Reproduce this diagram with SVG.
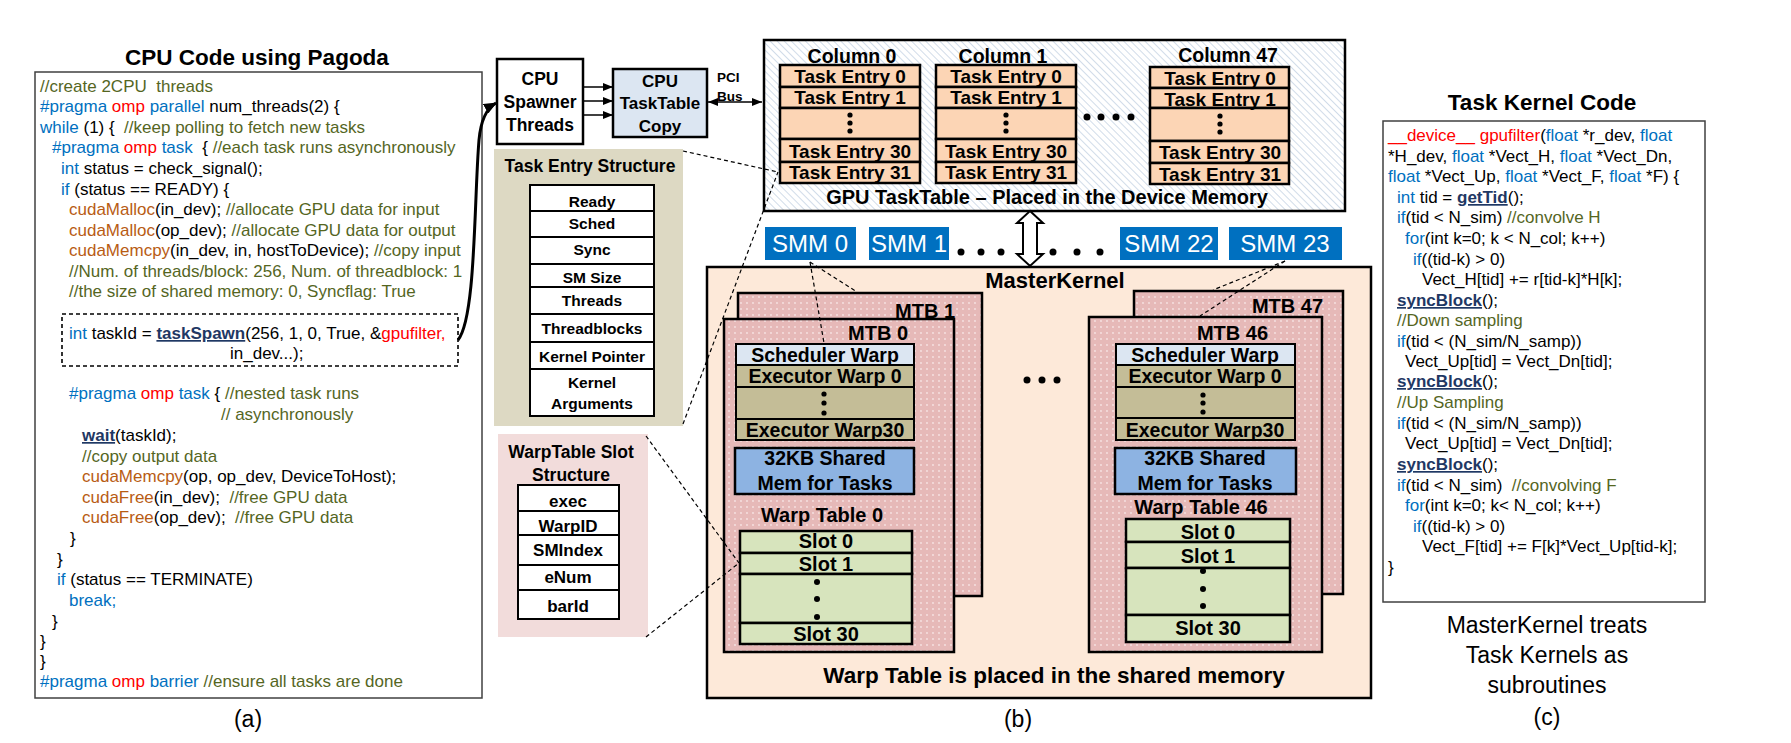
<svg xmlns="http://www.w3.org/2000/svg" width="1791" height="743" viewBox="0 0 1791 743">
<defs>
<style>
text{font-family:"Liberation Sans",Arial,sans-serif;fill:#000}
.b{font-weight:bold;text-anchor:middle}
.c{font-size:17px;white-space:pre}
.kw{fill:#0070c0}.om{fill:#ff0000}.cm{fill:#55661f}.fn{fill:#b85c14}
.api{fill:#1f3864;font-weight:bold;text-decoration:underline}
.cap{font-size:23px;text-anchor:middle}
.bx{stroke:#000;stroke-width:2.5}
.row{stroke:#000;stroke-width:2}
.te{fill:#fcd5b5;stroke:#000;stroke-width:2.5}
.sl{fill:#d7e4bd;stroke:#000;stroke-width:2.5}
.dash{fill:none;stroke:#000;stroke-width:1.2;stroke-dasharray:4 3}
.smm{fill:#0070c0}
.smt{fill:#fff;font-size:24px;text-anchor:middle}
</style>
<pattern id="hatch" width="5" height="5" patternUnits="userSpaceOnUse" patternTransform="rotate(-45)">
<rect width="5" height="5" fill="#fff"/><line x1="0" y1="0" x2="0" y2="5" stroke="#c5d3e4" stroke-width="1.6"/>
</pattern>
<pattern id="dots" width="6" height="6" patternUnits="userSpaceOnUse">
<rect width="6" height="6" fill="#e6b9b8"/><circle cx="3" cy="3" r="0.9" fill="#f7e4e4"/>
</pattern>
<marker id="arr" viewBox="0 0 10 8" refX="10" refY="4" markerWidth="10" markerHeight="8" markerUnits="userSpaceOnUse" orient="auto-start-reverse">
<path d="M0,0 L10,4 L0,8 z" fill="#000"/>
</marker>
<marker id="big" viewBox="0 0 12 10" refX="11" refY="5" markerWidth="13" markerHeight="11" markerUnits="userSpaceOnUse" orient="auto">
<path d="M0,0 L12,5 L0,10 z" fill="#000"/>
</marker>
</defs>
<rect width="1791" height="743" fill="#fff"/>

<!-- (a) CPU code -->
<g id="cpu-code">
<text x="257" y="65" class="b" font-size="22.5">CPU Code using Pagoda</text>
<rect x="35" y="72" width="447" height="626" fill="#fff" stroke="#404040" stroke-width="1.5"/>
<text class="c" x="40" y="92"><tspan class="cm">//create 2CPU  threads</tspan></text>
<text class="c" x="40" y="112"><tspan class="kw">#pragma </tspan><tspan class="om">omp </tspan><tspan class="kw">parallel </tspan>num_threads(2) {</text>
<text class="c" x="40" y="133"><tspan class="kw">while </tspan>(1) {  <tspan class="cm">//keep polling to fetch new tasks</tspan></text>
<text class="c" x="52" y="153"><tspan class="kw">#pragma </tspan><tspan class="om">omp </tspan><tspan class="kw">task  </tspan>{ <tspan class="cm">//each task runs asynchronously</tspan></text>
<text class="c" x="61" y="174"><tspan class="kw">int </tspan>status = check_signal();</text>
<text class="c" x="61" y="195"><tspan class="kw">if </tspan>(status == READY) {</text>
<text class="c" x="69" y="215"><tspan class="fn">cudaMalloc</tspan>(in_dev); <tspan class="cm">//allocate GPU data for input</tspan></text>
<text class="c" x="69" y="236"><tspan class="fn">cudaMalloc</tspan>(op_dev); <tspan class="cm">//allocate GPU data for output</tspan></text>
<text class="c" x="69" y="256"><tspan class="fn">cudaMemcpy</tspan>(in_dev, in, hostToDevice); <tspan class="cm">//copy input</tspan></text>
<text class="c" x="69" y="277"><tspan class="cm">//Num. of threads/block: 256, Num. of threadblock: 1</tspan></text>
<text class="c" x="69" y="297"><tspan class="cm">//the size of shared memory: 0, Syncflag: True</tspan></text>
<rect x="62" y="314" width="396" height="52" fill="none" stroke="#000" stroke-width="1.6" stroke-dasharray="4 3"/>
<text class="c" x="69" y="339"><tspan class="kw">int </tspan>taskId = <tspan class="api">taskSpawn</tspan>(256, 1, 0, True, &amp;<tspan class="om">gpufilter,</tspan></text>
<text class="c" x="230" y="359">in_dev...);</text>
<text class="c" x="69" y="399"><tspan class="kw">#pragma </tspan><tspan class="om">omp </tspan><tspan class="kw">task </tspan>{ <tspan class="cm">//nested task runs</tspan></text>
<text class="c" x="221" y="420"><tspan class="cm">// asynchronously</tspan></text>
<text class="c" x="82" y="441"><tspan class="api">wait</tspan>(taskId);</text>
<text class="c" x="82" y="462"><tspan class="cm">//copy output data</tspan></text>
<text class="c" x="82" y="482"><tspan class="fn">cudaMemcpy</tspan>(op, op_dev, DeviceToHost);</text>
<text class="c" x="82" y="503"><tspan class="fn">cudaFree</tspan>(in_dev);  <tspan class="cm">//free GPU data</tspan></text>
<text class="c" x="82" y="523"><tspan class="fn">cudaFree</tspan>(op_dev);  <tspan class="cm">//free GPU data</tspan></text>
<text class="c" x="70" y="544">}</text>
<text class="c" x="57" y="565">}</text>
<text class="c" x="57" y="585"><tspan class="kw">if </tspan>(status == TERMINATE)</text>
<text class="c" x="69" y="606"><tspan class="kw">break;</tspan></text>
<text class="c" x="52" y="627">}</text>
<text class="c" x="40" y="647">}</text>
<text class="c" x="40" y="667">}</text>
<text class="c" x="40" y="687"><tspan class="kw">#pragma </tspan><tspan class="om">omp </tspan><tspan class="kw">barrier </tspan><tspan class="cm">//ensure all tasks are done</tspan></text>
<text class="cap" x="248" y="727">(a)</text>
</g>

<!-- CPU spawner -->
<g id="cpu-spawner">
<rect x="497" y="59" width="86" height="85" fill="#fff" class="bx"/>
<text class="b" font-size="17.5" x="540" y="85">CPU</text>
<text class="b" font-size="17.5" x="540" y="108">Spawner</text>
<text class="b" font-size="17.5" x="540" y="131">Threads</text>
</g>
<g id="cpu-tasktable">
<rect x="613" y="69" width="94" height="68" fill="#dce6f2" class="bx"/>
<text class="b" font-size="17" x="660" y="87">CPU</text>
<text class="b" font-size="17" x="660" y="109">TaskTable</text>
<text class="b" font-size="17" x="660" y="132">Copy</text>
</g>
<g id="pci-label">
<text font-weight="bold" font-size="13.5" x="717" y="82">PCI</text>
<text font-weight="bold" font-size="13.5" x="717" y="101">Bus</text>
</g>

<!-- Task entry structure -->
<g id="task-entry-structure">
<rect x="494" y="149" width="189" height="277" fill="#ddd9c3"/>
<text class="b" font-size="17.5" x="590" y="172">Task Entry Structure</text>
<g fill="#fff" class="row">
<rect x="530" y="185" width="124" height="26"/>
<rect x="530" y="211" width="124" height="26"/>
<rect x="530" y="237" width="124" height="27"/>
<rect x="530" y="264" width="124" height="23"/>
<rect x="530" y="287" width="124" height="27"/>
<rect x="530" y="314" width="124" height="28"/>
<rect x="530" y="342" width="124" height="27"/>
<rect x="530" y="369" width="124" height="47"/>
</g>
<g font-size="15.5">
<text class="b" x="592" y="207">Ready</text>
<text class="b" x="592" y="229">Sched</text>
<text class="b" x="592" y="255">Sync</text>
<text class="b" x="592" y="283">SM Size</text>
<text class="b" x="592" y="306">Threads</text>
<text class="b" x="592" y="334">Threadblocks</text>
<text class="b" x="592" y="362">Kernel Pointer</text>
<text class="b" x="592" y="388">Kernel</text>
<text class="b" x="592" y="409">Arguments</text>
</g>
</g>

<!-- WarpTable slot structure -->
<g id="warptable-slot-structure">
<rect x="498" y="434" width="150" height="203" fill="#f2dcdb"/>
<text class="b" font-size="17.5" x="571" y="458">WarpTable Slot</text>
<text class="b" font-size="17.5" x="571" y="481">Structure</text>
<g fill="#fff" class="row">
<rect x="518" y="485" width="101" height="26"/>
<rect x="518" y="511" width="101" height="24"/>
<rect x="518" y="535" width="101" height="30"/>
<rect x="518" y="565" width="101" height="25"/>
<rect x="518" y="590" width="101" height="29"/>
</g>
<g font-size="17">
<text class="b" x="568" y="507">exec</text>
<text class="b" x="568" y="532">WarpID</text>
<text class="b" x="568" y="556">SMIndex</text>
<text class="b" x="568" y="583">eNum</text>
<text class="b" x="568" y="612">barId</text>
</g>
</g>

<!-- GPU TaskTable -->
<g id="gpu-tasktable">
<rect x="764" y="40" width="581" height="171" fill="url(#hatch)" class="bx"/>
<g font-size="19.5">
<text class="b" x="852" y="63">Column 0</text>
<text class="b" x="1003" y="63">Column 1</text>
<text class="b" x="1228" y="62">Column 47</text>
</g>
<g id="column-0">
<rect class="te" x="780" y="65" width="140" height="22"/>
<rect class="te" x="780" y="87" width="140" height="21"/>
<rect class="te" x="780" y="108" width="140" height="31"/>
<rect class="te" x="780" y="139" width="140" height="23"/>
<rect class="te" x="780" y="162" width="140" height="21"/>
<g font-size="19">
<text class="b" x="850" y="83">Task Entry 0</text>
<text class="b" x="850" y="104">Task Entry 1</text>
<text class="b" x="850" y="158">Task Entry 30</text>
<text class="b" x="850" y="179">Task Entry 31</text>
</g>
<circle cx="850" cy="115" r="2.6"/><circle cx="850" cy="123" r="2.6"/><circle cx="850" cy="131" r="2.6"/>
</g>
<g id="column-1">
<rect class="te" x="936" y="65" width="140" height="22"/>
<rect class="te" x="936" y="87" width="140" height="21"/>
<rect class="te" x="936" y="108" width="140" height="31"/>
<rect class="te" x="936" y="139" width="140" height="23"/>
<rect class="te" x="936" y="162" width="140" height="21"/>
<g font-size="19">
<text class="b" x="1006" y="83">Task Entry 0</text>
<text class="b" x="1006" y="104">Task Entry 1</text>
<text class="b" x="1006" y="158">Task Entry 30</text>
<text class="b" x="1006" y="179">Task Entry 31</text>
</g>
<circle cx="1006" cy="115" r="2.6"/><circle cx="1006" cy="123" r="2.6"/><circle cx="1006" cy="131" r="2.6"/>
</g>
<g id="column-47">
<rect class="te" x="1150" y="67" width="139" height="21"/>
<rect class="te" x="1150" y="88" width="139" height="20"/>
<rect class="te" x="1150" y="108" width="139" height="33"/>
<rect class="te" x="1150" y="141" width="139" height="22"/>
<rect class="te" x="1150" y="163" width="139" height="21"/>
<g font-size="19">
<text class="b" x="1220" y="85">Task Entry 0</text>
<text class="b" x="1220" y="106">Task Entry 1</text>
<text class="b" x="1220" y="159">Task Entry 30</text>
<text class="b" x="1220" y="181">Task Entry 31</text>
</g>
<circle cx="1220" cy="116" r="2.6"/><circle cx="1220" cy="124" r="2.6"/><circle cx="1220" cy="132" r="2.6"/>
</g>
<circle cx="1087" cy="117" r="3.5"/><circle cx="1101" cy="117" r="3.5"/><circle cx="1116" cy="117" r="3.5"/><circle cx="1131" cy="117" r="3.5"/>
<text class="b" font-size="20" x="1047" y="204">GPU TaskTable – Placed in the Device Memory</text>
</g>

<!-- SMMs -->
<g id="smm-0"><rect class="smm" x="765" y="227" width="91" height="33"/><text class="smt" x="810" y="252">SMM 0</text></g>
<g id="smm-1"><rect class="smm" x="869" y="227" width="80" height="33"/><text class="smt" x="909" y="252">SMM 1</text></g>
<g id="smm-22"><rect class="smm" x="1120" y="227" width="98" height="33"/><text class="smt" x="1169" y="252">SMM 22</text></g>
<g id="smm-23"><rect class="smm" x="1229" y="227" width="113" height="33"/><text class="smt" x="1285" y="252">SMM 23</text></g>
<g id="smm-dots">
<circle cx="961" cy="252" r="3.5"/><circle cx="981" cy="252" r="3.5"/><circle cx="1001" cy="252" r="3.5"/>
<circle cx="1053" cy="252" r="3.5"/><circle cx="1077" cy="252" r="3.5"/><circle cx="1100" cy="252" r="3.5"/>
</g>

<!-- MasterKernel -->
<g id="masterkernel">
<rect x="707" y="267" width="664" height="431" fill="#fde9d9" class="bx"/>
<text class="b" font-size="22" x="1055" y="288">MasterKernel</text>
<text class="b" font-size="22.5" x="1054" y="683">Warp Table is placed in the shared memory</text>
<circle cx="1027" cy="380" r="3.5"/><circle cx="1042" cy="380" r="3.5"/><circle cx="1057" cy="380" r="3.5"/>
</g>

<g id="mtb-1">
<rect x="738" y="293" width="244" height="303" fill="url(#dots)" class="bx"/>
<text font-weight="bold" font-size="20" text-anchor="end" x="955" y="318">MTB 1</text>
</g>
<g id="mtb-0">
<rect x="724" y="319" width="230" height="333" fill="url(#dots)" class="bx"/>
<text font-weight="bold" font-size="20" text-anchor="end" x="908" y="340">MTB 0</text>
<rect x="736" y="344" width="178" height="21" fill="#dce6f2" class="row"/>
<rect x="736" y="365" width="178" height="22" fill="#c4bd97" class="row"/>
<rect x="736" y="387" width="178" height="32" fill="#c4bd97" class="row"/>
<rect x="736" y="419" width="178" height="21" fill="#c4bd97" class="row"/>
<g font-size="19.5">
<text class="b" x="825" y="362">Scheduler Warp</text>
<text class="b" x="825" y="383">Executor Warp 0</text>
<text class="b" x="825" y="437">Executor Warp30</text>
</g>
<circle cx="824" cy="394" r="2.6"/><circle cx="824" cy="403" r="2.6"/><circle cx="824" cy="413" r="2.6"/>
<rect x="735" y="448" width="179" height="46" fill="#8db3e2" class="bx"/>
<text class="b" font-size="19.5" x="825" y="465">32KB Shared</text>
<text class="b" font-size="19.5" x="825" y="490">Mem for Tasks</text>
<text class="b" font-size="20" x="822" y="522">Warp Table 0</text>
<rect class="sl" x="740" y="531" width="172" height="22"/>
<rect class="sl" x="740" y="553" width="172" height="21"/>
<rect class="sl" x="740" y="574" width="172" height="49"/>
<rect class="sl" x="740" y="623" width="172" height="21"/>
<g font-size="20">
<text class="b" x="826" y="548">Slot 0</text>
<text class="b" x="826" y="571">Slot 1</text>
<text class="b" x="826" y="641">Slot 30</text>
</g>
<circle cx="817" cy="582" r="3"/><circle cx="817" cy="599" r="3"/><circle cx="817" cy="617" r="3"/>
</g>

<g id="mtb-47">
<rect x="1134" y="291" width="209" height="303" fill="url(#dots)" class="bx"/>
<text font-weight="bold" font-size="20" text-anchor="end" x="1323" y="313">MTB 47</text>
</g>
<g id="mtb-46">
<rect x="1089" y="317" width="233" height="335" fill="url(#dots)" class="bx"/>
<text font-weight="bold" font-size="20" text-anchor="end" x="1268" y="340">MTB 46</text>
<rect x="1116" y="344" width="179" height="21" fill="#dce6f2" class="row"/>
<rect x="1116" y="365" width="179" height="22" fill="#c4bd97" class="row"/>
<rect x="1116" y="387" width="179" height="31" fill="#c4bd97" class="row"/>
<rect x="1116" y="418" width="179" height="22" fill="#c4bd97" class="row"/>
<g font-size="19.5">
<text class="b" x="1205" y="362">Scheduler Warp</text>
<text class="b" x="1205" y="383">Executor Warp 0</text>
<text class="b" x="1205" y="437">Executor Warp30</text>
</g>
<circle cx="1203" cy="395" r="2.6"/><circle cx="1203" cy="403" r="2.6"/><circle cx="1203" cy="412" r="2.6"/>
<rect x="1115" y="448" width="181" height="46" fill="#8db3e2" class="bx"/>
<text class="b" font-size="19.5" x="1205" y="465">32KB Shared</text>
<text class="b" font-size="19.5" x="1205" y="490">Mem for Tasks</text>
<text class="b" font-size="20" x="1201" y="514">Warp Table 46</text>
<rect class="sl" x="1126" y="519" width="164" height="23"/>
<rect class="sl" x="1126" y="542" width="164" height="26"/>
<rect class="sl" x="1126" y="568" width="164" height="47"/>
<rect class="sl" x="1126" y="615" width="164" height="27"/>
<g font-size="20">
<text class="b" x="1208" y="539">Slot 0</text>
<text class="b" x="1208" y="563">Slot 1</text>
<text class="b" x="1208" y="635">Slot 30</text>
</g>
<circle cx="1203" cy="571" r="3"/><circle cx="1203" cy="589" r="3"/><circle cx="1203" cy="606" r="3"/>
</g>

<text class="cap" x="1018" y="727">(b)</text>

<!-- (c) Task kernel code -->
<g id="task-kernel-code">
<text x="1542" y="110" class="b" font-size="22.5">Task Kernel Code</text>
<rect x="1383" y="121" width="322" height="481" fill="#fff" stroke="#404040" stroke-width="1.5"/>
<text class="c" x="1388" y="141"><tspan class="om">__device__ gpufilter</tspan>(<tspan class="kw">float </tspan>*r_dev, <tspan class="kw">float</tspan></text>
<text class="c" x="1388" y="162">*H_dev, <tspan class="kw">float </tspan>*Vect_H, <tspan class="kw">float </tspan>*Vect_Dn,</text>
<text class="c" x="1388" y="182"><tspan class="kw">float </tspan>*Vect_Up, <tspan class="kw">float </tspan>*Vect_F, <tspan class="kw">float </tspan>*F) {</text>
<text class="c" x="1397" y="203"><tspan class="kw">int </tspan>tid = <tspan class="api">getTid</tspan>();</text>
<text class="c" x="1397" y="223"><tspan class="kw">if</tspan>(tid &lt; N_sim) <tspan class="cm">//convolve H</tspan></text>
<text class="c" x="1405" y="244"><tspan class="kw">for</tspan>(int k=0; k &lt; N_col; k++)</text>
<text class="c" x="1413" y="265"><tspan class="kw">if</tspan>((tid-k) &gt; 0)</text>
<text class="c" x="1422" y="285">Vect_H[tid] += r[tid-k]*H[k];</text>
<text class="c" x="1397" y="306"><tspan class="api">syncBlock</tspan>();</text>
<text class="c" x="1397" y="326"><tspan class="cm">//Down sampling</tspan></text>
<text class="c" x="1397" y="347"><tspan class="kw">if</tspan>(tid &lt; (N_sim/N_samp))</text>
<text class="c" x="1405" y="367">Vect_Up[tid] = Vect_Dn[tid];</text>
<text class="c" x="1397" y="387"><tspan class="api">syncBlock</tspan>();</text>
<text class="c" x="1397" y="408"><tspan class="cm">//Up Sampling</tspan></text>
<text class="c" x="1397" y="429"><tspan class="kw">if</tspan>(tid &lt; (N_sim/N_samp))</text>
<text class="c" x="1405" y="449">Vect_Up[tid] = Vect_Dn[tid];</text>
<text class="c" x="1397" y="470"><tspan class="api">syncBlock</tspan>();</text>
<text class="c" x="1397" y="491"><tspan class="kw">if</tspan>(tid &lt; N_sim)  <tspan class="cm">//convolving F</tspan></text>
<text class="c" x="1405" y="511"><tspan class="kw">for</tspan>(int k=0; k&lt; N_col; k++)</text>
<text class="c" x="1413" y="532"><tspan class="kw">if</tspan>((tid-k) &gt; 0)</text>
<text class="c" x="1422" y="552">Vect_F[tid] += F[k]*Vect_Up[tid-k];</text>
<text class="c" x="1388" y="573">}</text>
<text class="cap" x="1547" y="633">MasterKernel treats</text>
<text class="cap" x="1547" y="663">Task Kernels as</text>
<text class="cap" x="1547" y="693">subroutines</text>
<text class="cap" x="1547" y="725">(c)</text>
</g>

<!-- connectors -->
<g id="connectors">
<path d="M458,340 C476,318 474,200 479,140 C481,118 487,108 496,103" fill="none" stroke="#000" stroke-width="3" marker-end="url(#big)"/>
<line x1="583" y1="87" x2="613" y2="87" stroke="#000" stroke-width="1.5" marker-end="url(#arr)"/>
<line x1="583" y1="101" x2="613" y2="101" stroke="#000" stroke-width="1.5" marker-end="url(#arr)"/>
<line x1="583" y1="115" x2="613" y2="115" stroke="#000" stroke-width="1.5" marker-end="url(#arr)"/>
<line x1="708" y1="102" x2="762" y2="102" stroke="#000" stroke-width="1.5" marker-start="url(#arr)" marker-end="url(#arr)"/>
<polygon points="1030,211 1043,223 1037,223 1037,254 1043,254 1030,266 1017,254 1023,254 1023,223 1017,223" fill="#fff" stroke="#000" stroke-width="2"/>
<line class="dash" x1="683" y1="151" x2="778" y2="172"/>
<line class="dash" x1="683" y1="424" x2="778" y2="172"/>
<line class="dash" x1="646" y1="436" x2="739" y2="563"/>
<line class="dash" x1="646" y1="637" x2="739" y2="563"/>
<line class="dash" x1="810" y1="262" x2="857" y2="292"/>
<line class="dash" x1="810" y1="262" x2="824" y2="343"/>
<line class="dash" x1="1285" y1="261" x2="1213" y2="290"/>
<line class="dash" x1="1285" y1="261" x2="1200" y2="316"/>
</g>
</svg>
